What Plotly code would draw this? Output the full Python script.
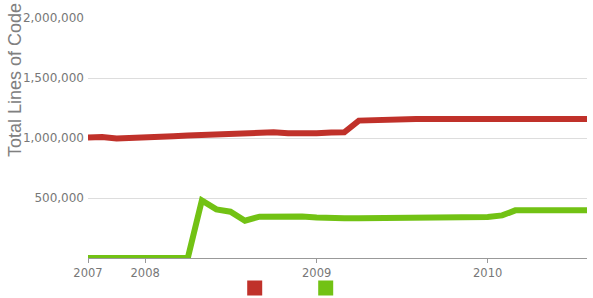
import plotly.graph_objects as go
import pandas as pd

months = pd.date_range("2007-09-01", "2010-08-01", freq="MS")

red_values = [1005000, 1008000, 995000, 1003000, 1010000, 1012000, 1015000, 1020000,
              1025000, 1028000, 1033000, 1036000, 1040000, 1047000, 1040000, 1035000,
              1040000, 1045000, 1048000, 1145000, 1150000, 1158000, 1158000, 1158000,
              1158000, 1158000, 1158000, 1158000, 1158000, 1158000, 1158000, 1158000,
              1158000, 1158000, 1158000, 1158000]
green_values = [0, 0, 0, 0, 0, 0, 0, 0,
                480000, 405000, 386000, 311000, 344000, 345000, 352000, 345000,
                338000, 331000, 331000, 331000, 331000, 331000, 331000, 331000,
                331000, 342000, 342000, 342000, 342000, 355000, 397000, 397000,
                397000, 397000, 397000, 397000]

series_names = ["", ""]
series_colors = ["#c0312a", "#72c214"]

y_tickvals = [500000, 1000000, 1500000, 2000000]
y_ticktext = ["500,000", "1,000,000", "1,500,000", "2,000,000"]
x_tickvals = ["2007-09-01", "2008-01-01", "2009-01-01", "2010-01-01"]
x_ticktext = ["2007", "2008", "2009", "2010"]
y_title = "Total Lines of Code"

fig = go.Figure()
for vals, color in zip([red_values, green_values], series_colors):
    fig.add_trace(go.Scatter(x=months, y=vals, mode="lines",
                             line=dict(color=color, width=6),
                             showlegend=False, hoverinfo="skip"))
for name, color in zip(series_names, series_colors):
    fig.add_trace(go.Scatter(x=[None], y=[None], mode="markers", name=name,
                             marker=dict(symbol="square", size=15, color=color),
                             showlegend=True))

fig.add_annotation(text=y_title, xref="paper", yref="paper",
                   x=(15 - 88) / 499, y=(258 - 80) / 240, xanchor="center",
                   yanchor="middle", textangle=-90, showarrow=False,
                   font=dict(family="Liberation Sans, Arial, sans-serif",
                             size=18, color="#808080"))

fig.update_layout(
    width=593, height=298,
    margin=dict(l=88, r=6, t=18, b=40, autoexpand=False),
    paper_bgcolor="white", plot_bgcolor="white",
    font=dict(family="DejaVu Sans, sans-serif", color="#777777", size=11),
    showlegend=True,
    legend=dict(orientation="h", x=0.294, xanchor="left", y=-0.125, yanchor="middle",
                entrywidth=26, entrywidthmode="pixels", itemsizing="trace",
                font=dict(size=6), bgcolor="rgba(0,0,0,0)"),
    xaxis=dict(range=["2007-09-01", "2010-08-01"], tickvals=x_tickvals,
               ticktext=x_ticktext, showgrid=False, zeroline=False,
               showline=True, linecolor="#999999", linewidth=1,
               ticks="outside", ticklen=4, tickcolor="#999999",
               tickfont=dict(size=11.5, color="#777777")),
    yaxis=dict(range=[0, 2000000], tickvals=y_tickvals, ticktext=y_ticktext,
               showgrid=True, gridcolor="#dddddd", gridwidth=1, zeroline=False,
               showline=False, ticks="", ticklabelstandoff=3,
               tickfont=dict(size=12, color="#777777")),
)
fig.write_html("out.html")
